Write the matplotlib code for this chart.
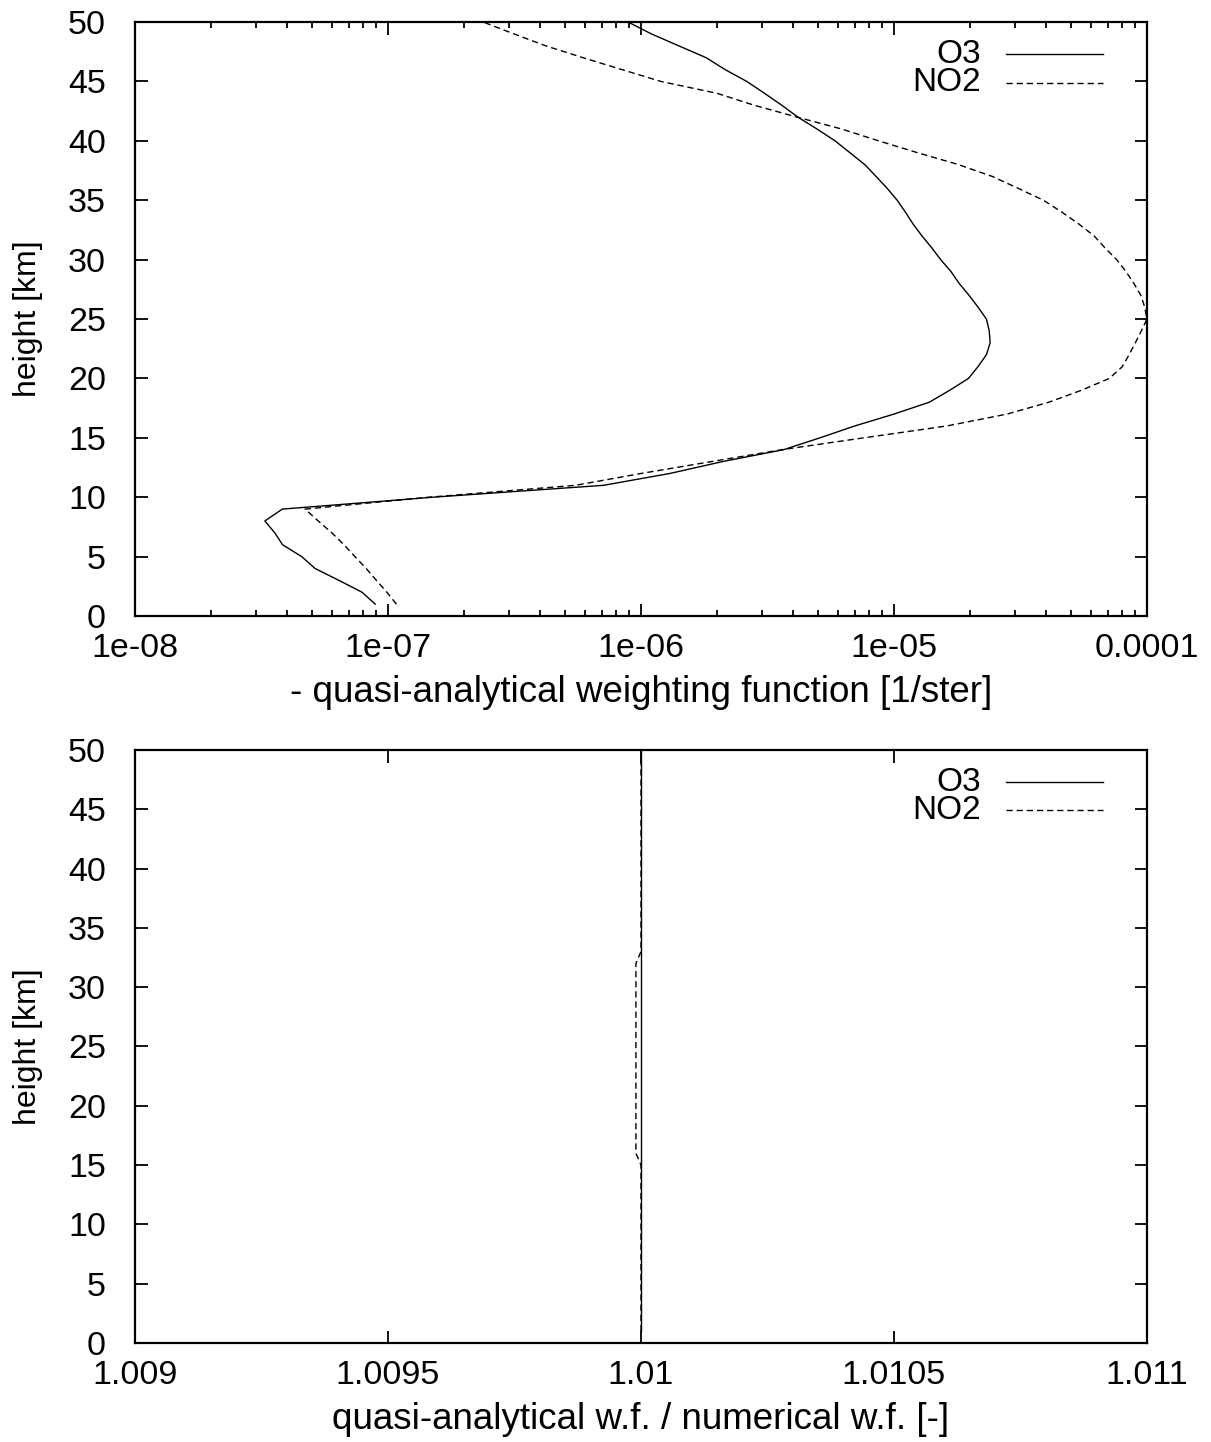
import numpy as np
import matplotlib.pyplot as plt
from matplotlib.ticker import FixedLocator, FixedFormatter, LogLocator, NullLocator

plt.rcParams['font.family'] = ['Liberation Sans', 'DejaVu Sans']

height = np.arange(1, 51)

# weighting functions per height level, 1..50 km
wf_o3 = [8.9e-8, 7.9e-8, 6.4e-8, 5.15e-8, 4.56e-8, 3.83e-8, 3.57e-8, 3.26e-8, 3.82e-8, 1.5e-7,
         7.1e-7, 1.3e-6, 2.1e-6, 3.66e-6, 5.1e-6, 7.0e-6, 1.0e-5, 1.38e-5, 1.66e-5, 1.97e-5,
         2.15e-5, 2.32e-5, 2.4e-5, 2.38e-5, 2.32e-5, 2.15e-5, 1.98e-5, 1.81e-5, 1.68e-5, 1.53e-5,
         1.41e-5, 1.29e-5, 1.19e-5, 1.11e-5, 1.03e-5, 9.4e-6, 8.5e-6, 7.67e-6, 6.7e-6, 5.85e-6,
         4.96e-6, 4.17e-6, 3.6e-6, 3.08e-6, 2.62e-6, 2.15e-6, 1.81e-6, 1.41e-6, 1.1e-6, 8.9e-7]
wf_no2 = [1.08e-7, 9.9e-8, 9.0e-8, 8.2e-8, 7.4e-8, 6.7e-8, 6.0e-8, 5.3e-8, 4.7e-8, 1.45e-7,
          5.5e-7, 1.0e-6, 1.9e-6, 3.6e-6, 7.6e-6, 1.62e-5, 2.8e-5, 4.1e-5, 5.5e-5, 7.1e-5,
          8.0e-5, 8.5e-5, 9.0e-5, 9.5e-5, 1.0e-4, 9.8e-5, 9.46e-5, 8.88e-5, 8.26e-5, 7.59e-5,
          6.82e-5, 6.18e-5, 5.38e-5, 4.61e-5, 3.9e-5, 3.1e-5, 2.45e-5, 1.8e-5, 1.24e-5, 8.7e-6,
          6.2e-6, 4.14e-6, 2.8e-6, 2.0e-6, 1.2e-6, 8.4e-7, 5.9e-7, 4.2e-7, 3.15e-7, 2.38e-7]

# quasi-analytical / numerical ratio
ratio_o3 = [1.01] * 50
ratio_no2 = [1.01] * 15 + [1.00999] * 17 + [1.01] * 18

log_ticks = [1e-8, 1e-7, 1e-6, 1e-5, 1e-4]
log_labels = ['1e-08', '1e-07', '1e-06', '1e-05', '0.0001']
ratio_ticks = [1.009, 1.0095, 1.01, 1.0105, 1.011]
ratio_labels = ['1.009', '1.0095', '1.01', '1.0105', '1.011']
height_ticks = list(range(0, 51, 5))

TICK_FS = 24.5
LABEL_FS = 26.5
KEY_FS = 24
dash = (0, (4.5, 2.8))

fig = plt.figure(figsize=(12.11, 14.42), dpi=100)
ax1 = fig.add_axes([0.1115, 0.5728, 0.8356, 0.4119])
ax2 = fig.add_axes([0.1115, 0.0687, 0.8356, 0.4112])


def style(ax):
    for s in ax.spines.values():
        s.set_linewidth(1.6)
    ax.tick_params(which='both', direction='in', top=True, right=True,
                   labelsize=TICK_FS, width=1.3)
    ax.tick_params(which='major', length=9)
    ax.tick_params(axis='x', which='major', pad=12)
    ax.tick_params(axis='y', which='major', pad=21)
    ax.tick_params(which='minor', length=4.5)
    ax.set_ylim(0, 50)
    ax.yaxis.set_major_locator(FixedLocator(height_ticks))
    ax.yaxis.set_minor_locator(NullLocator())
    ax.set_ylabel('height [km]', fontsize=23)
    ax.yaxis.set_label_coords(-0.091, 0.5)


def key(ax):
    for i, (name, ls) in enumerate([('O3', '-'), ('NO2', dash)]):
        y = 0.946 - i * 0.048
        ax.text(0.836, y, name, transform=ax.transAxes, ha='right', va='center', fontsize=KEY_FS)
        ax.plot([0.861, 0.957], [y, y], transform=ax.transAxes, color='black', lw=1.0, ls=ls)


# top: weighting functions on a log axis
ax1.plot(wf_o3, height, color='black', lw=1.0, ls='-')
ax1.plot(wf_no2, height, color='black', lw=1.0, ls=dash)
ax1.set_xscale('log')
ax1.set_xlim(1e-8, 1e-4)
ax1.xaxis.set_major_locator(FixedLocator(log_ticks))
ax1.xaxis.set_major_formatter(FixedFormatter(log_labels))
ax1.xaxis.set_minor_locator(LogLocator(base=10, subs=np.arange(2, 10)))
ax1.xaxis.set_minor_formatter(FixedFormatter([]))
style(ax1)
ax1.set_xlabel('- quasi-analytical weighting function [1/ster]', fontsize=LABEL_FS, labelpad=8)
key(ax1)

# bottom: ratio of the two weighting functions
ax2.plot(ratio_o3, height, color='black', lw=1.0, ls='-')
ax2.plot(ratio_no2, height, color='black', lw=1.0, ls=dash)
ax2.set_xlim(1.009, 1.011)
ax2.xaxis.set_major_locator(FixedLocator(ratio_ticks))
ax2.xaxis.set_major_formatter(FixedFormatter(ratio_labels))
ax2.xaxis.set_minor_locator(NullLocator())
style(ax2)
ax2.set_xlabel('quasi-analytical w.f. / numerical w.f. [-]', fontsize=LABEL_FS, labelpad=8)
key(ax2)

fig.savefig('out.png', dpi=100)
